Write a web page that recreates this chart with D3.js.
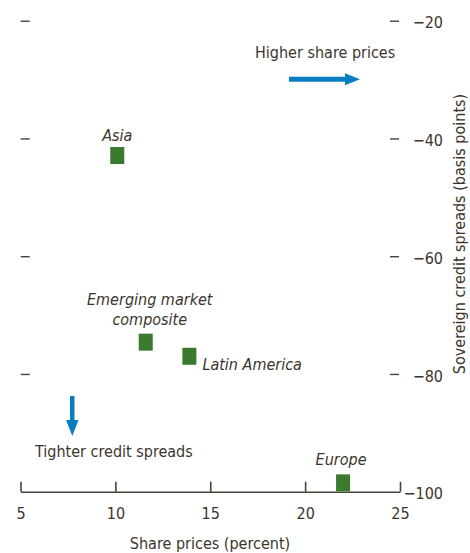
<!DOCTYPE html>
<html>
<head>
<meta charset="utf-8">
<script src="https://cdn.jsdelivr.net/npm/d3@7"></script>
<style>
  body { margin: 0; background: #fff; }
  text { font-family: "Liberation Sans Narrow", "DejaVu Sans Condensed", "Roboto", sans-serif; fill: #3b352e; }
</style>
</head>
<body>
<div id="chart"></div>
<script>
var w = 470;
var h = 553;

// data
var regions = ["Asia", "Emerging market composite", "Latin America", "Europe"];
var sharePrices = [10.1, 11.6, 13.9, 22.0];
var creditSpreads = [-42.9, -74.6, -77.0, -98.5];
var xTicks = [5, 10, 15, 20, 25];
var yTicks = [-20, -40, -60, -80, -100];

var green = "#3a7a2f";
var blue = "#0a7dc2";
var ink = "#4a4238";
var fs = "16px";

var x = d3.scaleLinear().domain([5, 25]).range([20.5, 400]);
var y = d3.scaleLinear().domain([-100, -20]).range([491.7, 20.7]);

var svg = d3.select("#chart")
            .append("svg")
            .attr("width", w)
            .attr("height", h);

// x axis, ticks pointing up
var xAxis = svg.append("g")
    .attr("transform", "translate(0," + y(-100) + ")")
    .call(d3.axisBottom(x).tickValues(xTicks).tickSizeInner(-10).tickSizeOuter(0).tickPadding(16));
xAxis.select(".domain").attr("stroke", ink).attr("stroke-width", 1.6);
xAxis.selectAll(".tick line").attr("stroke", ink).attr("stroke-width", 1.6);
xAxis.selectAll("text").style("font-size", fs).attr("fill", "#3b352e");

// right-hand y labels + dashes
var yAxis = svg.append("g")
    .attr("transform", "translate(390,0)")
    .call(d3.axisRight(y).tickValues(yTicks).tickSize(9).tickPadding(0));
yAxis.select(".domain").remove();
yAxis.selectAll(".tick line")
    .attr("stroke", ink).attr("stroke-width", 1.4)
    .attr("display", function(d) { return d == -100 ? "none" : null; });
yAxis.selectAll("text")
    .attr("x", 53)
    .attr("dy", "0.45em")
    .style("text-anchor", "end")
    .style("font-size", fs)
    .attr("fill", "#3b352e");

// left-hand dashes
var yLeft = svg.append("g")
    .attr("transform", "translate(20.7,0)")
    .call(d3.axisRight(y).tickValues(yTicks.slice(0, 4)).tickSize(9).tickFormat(""));
yLeft.select(".domain").remove();
yLeft.selectAll(".tick line").attr("stroke", ink).attr("stroke-width", 1.4);

// axis titles
svg.append("text")
    .attr("x", 210)
    .attr("y", 549)
    .style("text-anchor", "middle")
    .style("font-size", fs)
    .text("Share prices (percent)");

svg.append("text")
    .attr("transform", "translate(465,234) rotate(-90)")
    .style("text-anchor", "middle")
    .style("font-size", fs)
    .text("Sovereign credit spreads (basis points)");

// markers
svg.selectAll("rect.pt")
    .data(regions)
    .enter()
    .append("rect")
    .attr("class", "pt")
    .attr("x", function(d, i) { return x(sharePrices[i]) - 7; })
    .attr("y", function(d, i) { return y(creditSpreads[i]) - 8.5; })
    .attr("width", 14)
    .attr("height", 17)
    .attr("fill", green);

// labels next to markers
function labelAt(i, dx, dy, anchor, lines) {
    var t = svg.append("text")
        .attr("x", x(sharePrices[i]) + dx)
        .attr("y", y(creditSpreads[i]) + dy)
        .style("text-anchor", anchor)
        .style("font-style", "italic")
        .style("font-size", fs);
    lines.forEach(function(l, k) {
        t.append("tspan")
         .attr("x", x(sharePrices[i]) + dx)
         .attr("dy", k == 0 ? 0 : 20)
         .text(l);
    });
}
labelAt(0, 0, -15, "middle", ["Asia"]);
labelAt(1, 4, -37, "middle", ["Emerging market", "composite"]);
labelAt(2, 13, 14, "start", ["Latin America"]);
labelAt(3, -2, -18, "middle", ["Europe"]);

// direction notes
svg.append("text")
    .attr("x", 255)
    .attr("y", 58)
    .style("font-size", fs)
    .text("Higher share prices");

svg.append("text")
    .attr("x", 35)
    .attr("y", 457)
    .style("font-size", fs)
    .text("Tighter credit spreads");

// arrows
svg.append("path")
    .attr("d", "M289,76.8 L345,76.8 L345,73.3 L360,79.3 L345,85.3 L345,81.8 L289,81.8 Z")
    .attr("fill", blue);

svg.append("path")
    .attr("d", "M70,396 L74.5,396 L74.5,420 L78.5,420 L72.3,436 L66,420 L70,420 Z")
    .attr("fill", blue);
</script>
</body>
</html>
